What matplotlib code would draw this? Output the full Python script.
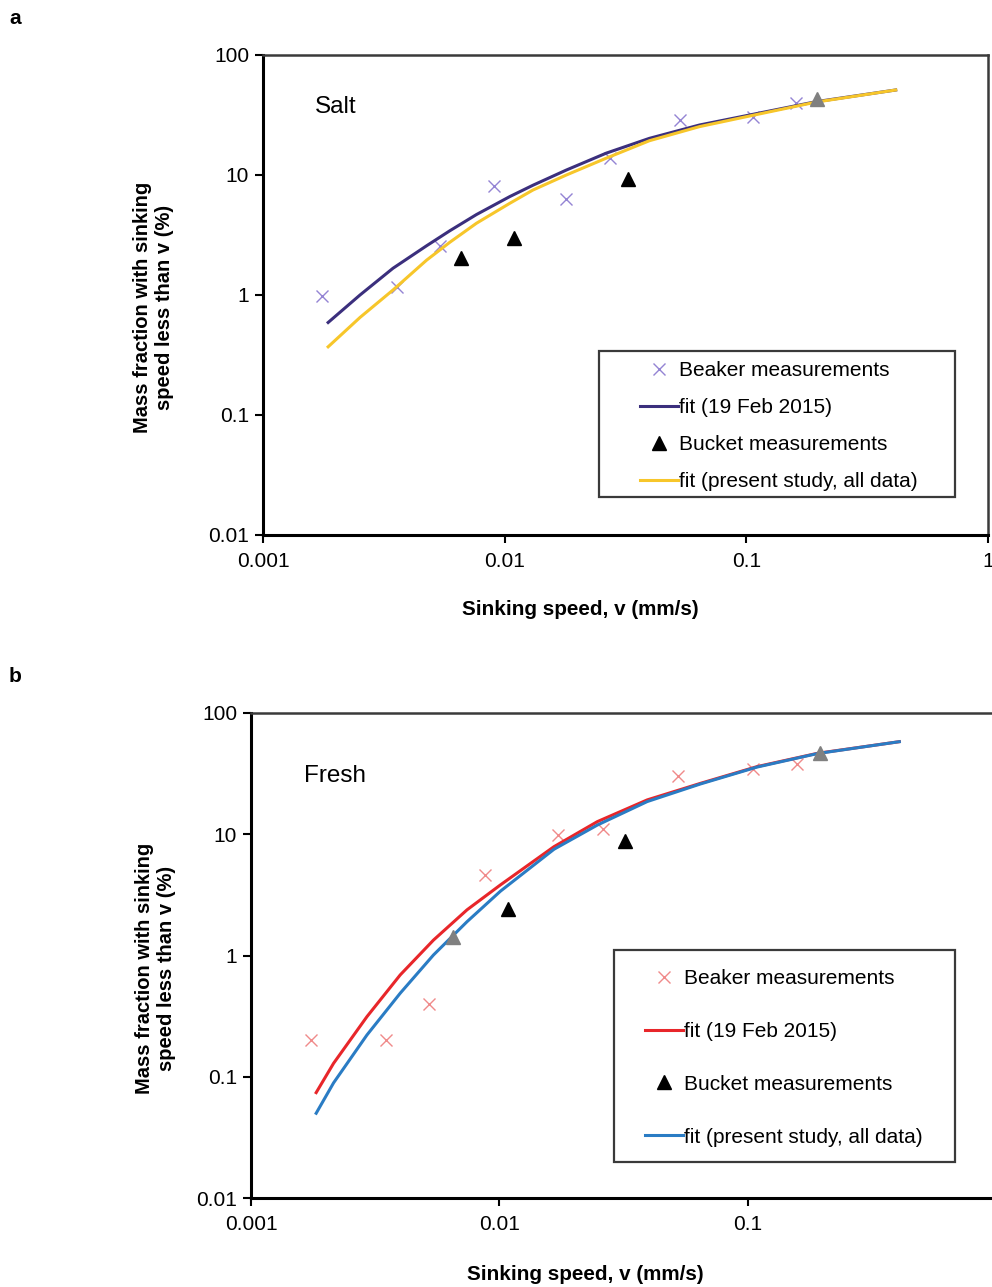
import matplotlib
matplotlib.use("Agg")
import matplotlib.pyplot as plt
from matplotlib.patches import Rectangle

plt.rcParams['font.family'] = ['Liberation Sans', 'DejaVu Sans']

# ---- panel a (salt) ----
salt_beaker_v = [0.00175, 0.00358, 0.00539, 0.00901, 0.0179, 0.0272, 0.0534, 0.107, 0.161]
salt_beaker_m = [0.98, 1.17, 2.56, 8.10, 6.31, 13.9, 28.7, 30.4, 39.8]
salt_bucket_v = [0.00658, 0.0109, 0.0325]
salt_bucket_m = [2.03, 2.99, 9.26]
salt_bucket_grey_v = [0.196]
salt_bucket_grey_m = [43.0]
salt_fit_v = [0.00186, 0.00252, 0.00345, 0.00475, 0.00593, 0.00764, 0.0105, 0.0131,
              0.0180, 0.0263, 0.0397, 0.0640, 0.103, 0.194, 0.415]
salt_fit2015_m = [0.59, 1.00, 1.67, 2.57, 3.43, 4.68, 6.61, 8.22,
                  11.0, 15.2, 20.2, 26.1, 31.6, 40.8, 51.1]
salt_fit_all_m = [0.37, 0.65, 1.10, 1.95, 2.75, 3.96, 5.81, 7.50,
                  10.0, 13.8, 19.3, 25.3, 31.0, 40.5, 51.1]

# ---- panel b (fresh) ----
fresh_beaker_v = [0.00174, 0.0035, 0.00522, 0.00878, 0.0173, 0.0262, 0.0522, 0.105, 0.158]
fresh_beaker_m = [0.2, 0.2, 0.4, 4.57, 9.9, 11.1, 30.5, 34.2, 38.3]
fresh_bucket_v = [0.0108, 0.0322]
fresh_bucket_m = [2.44, 8.87]
fresh_bucket_grey_v = [0.0065, 0.195]
fresh_bucket_grey_m = [1.43, 47.2]
fresh_fit_v = [0.00183, 0.00215, 0.00293, 0.00399, 0.00543, 0.00741, 0.0101,
               0.0166, 0.0248, 0.0394, 0.0646, 0.109, 0.191, 0.408]
fresh_fit2015_m = [0.074, 0.129, 0.313, 0.692, 1.34, 2.38, 3.82,
                   7.90, 12.7, 19.2, 26.3, 36.1, 46.5, 58.0]
fresh_fit_all_m = [0.050, 0.089, 0.221, 0.489, 1.01, 1.90, 3.39,
                   7.52, 11.9, 18.6, 26.0, 35.8, 46.3, 58.0]

labels = ['Beaker measurements', 'fit (19 Feb 2015)', 'Bucket measurements',
          'fit (present study, all data)']
yticks = [0.01, 0.1, 1, 10, 100]
ytick_labels = ['0.01', '0.1', '1', '10', '100']
xticks = [0.001, 0.01, 0.1, 1]
xtick_labels_a = ['0.001', '0.01', '0.1', '1']
xtick_labels_b = ['0.001', '0.01', '0.1', '']

W, H = 992, 1287
fig = plt.figure(figsize=(W / 100, H / 100), dpi=100)


def px_axes(x0, x1, y0, y1):
    return fig.add_axes([x0 / W, 1 - y1 / H, (x1 - x0) / W, (y1 - y0) / H])


def panel(ax, bv, bm, kv, km, gv, gm, fv, f15, fall, c_beak, c15, call, tag,
          leg_anchor, leg_space, box, xlabels):
    ax.set_xscale('log')
    ax.set_yscale('log')
    ax.set_xlim(0.001, 1)
    ax.set_ylim(0.01, 100)
    ax.set_xticks(xticks)
    ax.set_xticklabels(xlabels)
    ax.set_yticks(yticks)
    ax.set_yticklabels(ytick_labels)
    ax.minorticks_off()
    ax.tick_params(direction='out', length=6, width=1.5, labelsize=15)
    ax.tick_params(axis='y', pad=4)
    ax.tick_params(axis='x', pad=6)
    for s in ['top', 'right']:
        ax.spines[s].set_color('#3a3a3a')
        ax.spines[s].set_linewidth(1.8)
    for s in ['left', 'bottom']:
        ax.spines[s].set_color('black')
        ax.spines[s].set_linewidth(2.2)

    h1, = ax.plot(bv, bm, linestyle='none', marker='x', ms=9, mew=1.0, color=c_beak)
    h2, = ax.plot(fv, f15, color=c15, lw=2.2, solid_joinstyle='round')
    h3, = ax.plot(kv, km, linestyle='none', marker='^', ms=10, color='black')
    ax.plot(gv, gm, linestyle='none', marker='^', ms=10, color='#808080', zorder=4)
    h4, = ax.plot(fv, fall, color=call, lw=2.2, solid_joinstyle='round')

    ax.text(tag[1], tag[2], tag[0], transform=ax.transAxes, fontsize=17.5,
            ha='center', va='center')

    ax.legend([h1, h2, h3, h4], labels, loc='upper left', bbox_to_anchor=leg_anchor,
              frameon=False, fontsize=15, handlelength=1.82, handletextpad=0.05,
              borderpad=0, borderaxespad=0, labelspacing=leg_space)
    ax.add_patch(Rectangle((box[0], box[1]), box[2] - box[0], box[3] - box[1],
                           transform=ax.transAxes, fill=False, edgecolor='#3a3a3a',
                           lw=1.6, zorder=5))


ax_a = px_axes(263, 988, 55, 535)
panel(ax_a, salt_beaker_v, salt_beaker_m, salt_bucket_v, salt_bucket_m,
      salt_bucket_grey_v, salt_bucket_grey_m, salt_fit_v, salt_fit2015_m, salt_fit_all_m,
      '#9484d4', '#3b2f7d', '#f7c62a', ('Salt', 0.1007, 0.8917),
      (0.52, 0.362), 0.86, (0.4634, 0.0792, 0.9545, 0.3833), xtick_labels_a)

ax_b = px_axes(251, 996, 713, 1198)
panel(ax_b, fresh_beaker_v, fresh_beaker_m, fresh_bucket_v, fresh_bucket_m,
      fresh_bucket_grey_v, fresh_bucket_grey_m, fresh_fit_v, fresh_fit2015_m, fresh_fit_all_m,
      '#f08a8a', '#e8262a', '#2a7cc4', ('Fresh', 0.1128, 0.870),
      (0.5289, 0.4716), 1.62, (0.4872, 0.0742, 0.945, 0.5113), xtick_labels_b)

ylab = 'Mass fraction with sinking\nspeed less than v (%)'
xlab = 'Sinking speed, v (mm/s)'
fig.text(153 / W, 1 - 307 / H, ylab, rotation=90, ha='center', va='center',
         fontsize=14.5, fontweight='bold', multialignment='center', linespacing=1.2)
fig.text(155 / W, 1 - 968 / H, ylab, rotation=90, ha='center', va='center',
         fontsize=14.5, fontweight='bold', multialignment='center', linespacing=1.2)
fig.text(580 / W, 1 - 609 / H, xlab, ha='center', va='center', fontsize=14.9,
         fontweight='bold')
fig.text(585 / W, 1 - 1275 / H, xlab, ha='center', va='center', fontsize=14.9,
         fontweight='bold')
fig.text(15 / W, 1 - 18 / H, 'a', ha='center', va='center', fontsize=15, fontweight='bold')
fig.text(15 / W, 1 - 676 / H, 'b', ha='center', va='center', fontsize=15, fontweight='bold')

fig.savefig('out.png', dpi=100)
